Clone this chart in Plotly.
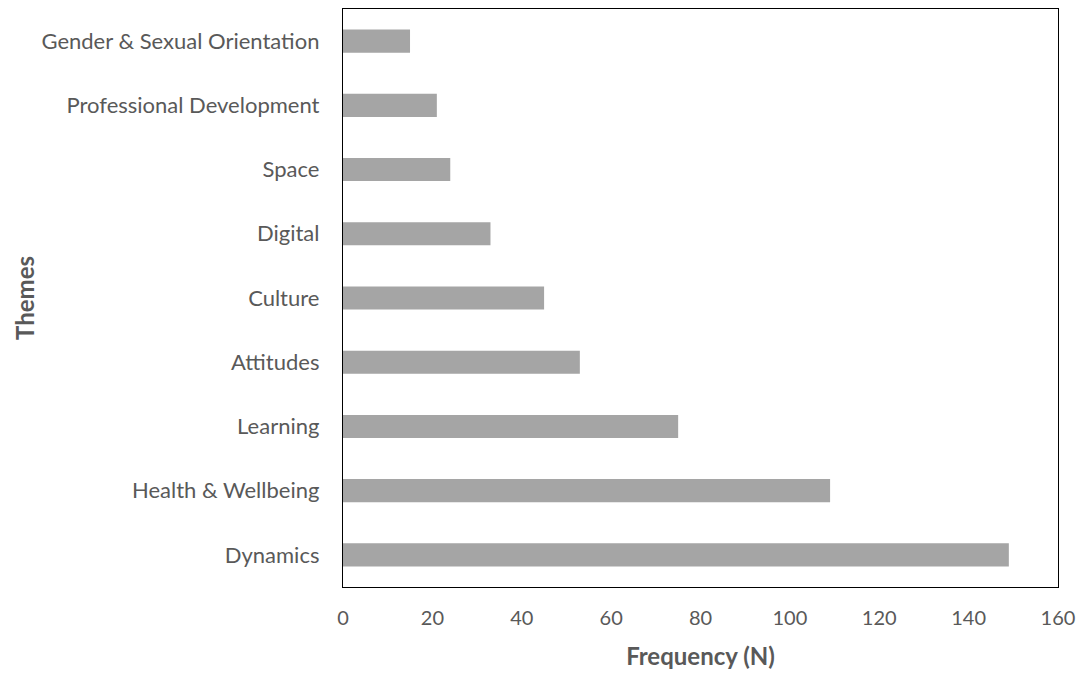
import plotly.graph_objects as go

themes = ["Dynamics", "Health & Wellbeing", "Learning", "Attitudes", "Culture",
          "Digital", "Space", "Professional Development", "Gender & Sexual Orientation"]
counts = [149, 109, 75, 53, 45, 33, 24, 21, 15]
x_ticks = [0, 20, 40, 60, 80, 100, 120, 140, 160]

FONT = "Lato"
GRAY = "#595959"

fig = go.Figure(go.Bar(
    x=counts, y=themes, orientation="h",
    marker=dict(color="#A5A5A5", line=dict(width=0)),
    width=0.36,
))

fig.update_layout(
    width=1076, height=667,
    margin=dict(l=335, r=26, t=1, b=88),
    paper_bgcolor="white", plot_bgcolor="white",
    showlegend=False,
    font=dict(family=FONT, color=GRAY, size=20),
)
fig.update_xaxes(
    range=[0, 160], tickvals=x_ticks, ticktext=[str(v) for v in x_ticks],
    showgrid=False, zeroline=False,
    showline=True, linecolor="black", linewidth=1.3, mirror=True,
    ticks="outside", ticklen=13, tickcolor="rgba(0,0,0,0)",
    tickfont=dict(family=FONT, size=20, color=GRAY),
    title=dict(text="<b>Frequency (N)</b>", font=dict(family=FONT, size=24, color=GRAY), standoff=20),
)
fig.update_yaxes(
    range=[-0.5, 8.5],
    showgrid=False, zeroline=False,
    showline=True, linecolor="black", linewidth=1.3, mirror=True,
    ticks="outside", ticklen=18, tickcolor="rgba(0,0,0,0)",
    tickfont=dict(family=FONT, size=22, color=GRAY),
    title=dict(text="<b>Themes</b>", font=dict(family=FONT, size=24, color=GRAY), standoff=0),
)

fig.write_html("out.html")
